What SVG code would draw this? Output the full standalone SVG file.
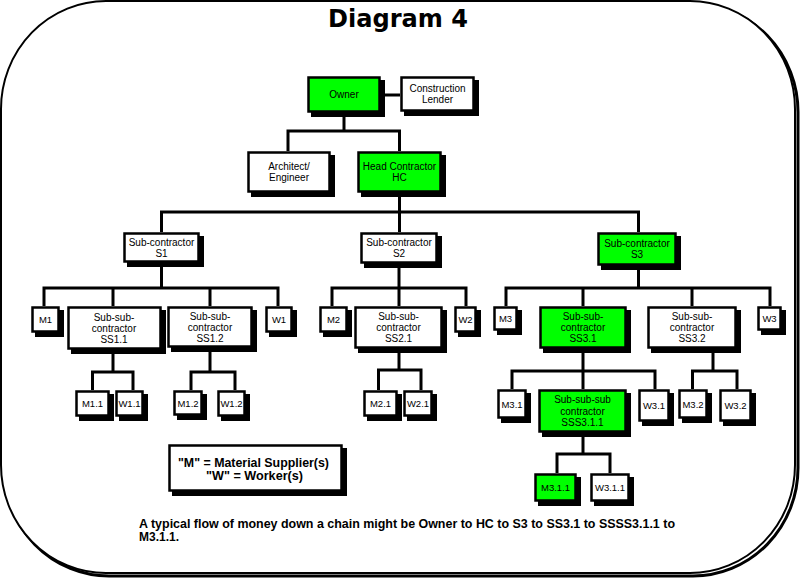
<svg xmlns="http://www.w3.org/2000/svg" width="800" height="578" viewBox="0 0 800 578">
<style>
.sh{fill:#000}
.bx{fill:#fff;stroke:#000;stroke-width:2.5}
.gr{fill:#00ff00}
.t{font-family:"Liberation Sans",Arial,sans-serif;font-size:10px;text-anchor:middle;fill:#000}
.s{font-size:9.5px}
.ln{fill:none;stroke:#000;stroke-width:3;stroke-linejoin:miter}
.b{font-family:"Liberation Sans",Arial,sans-serif;font-weight:bold;fill:#000}
</style>
<g id="frame">
<rect x="4" y="4" width="794" height="572" rx="105" ry="108" fill="none" stroke="#000" stroke-width="3"/>
<rect x="1" y="1" width="794" height="572" rx="105" ry="108" fill="#fff" stroke="#000" stroke-width="2"/>
</g>
<text id="title" x="328" y="27" textLength="140" lengthAdjust="spacingAndGlyphs" style="font-family:'DejaVu Sans',sans-serif;font-weight:bold;font-size:24px">Diagram 4</text>
<g id="connectors" class="ln">
<path d="M381 95H400"/>
<path d="M344 113V131M288 151V131H399.5V151"/>
<path d="M399.5 193V212M161.5 232V212H638.5V232M399.5 212V232"/>
<path d="M161.5 263V288M44 306V288H278V306M113 288V306M210 288V306"/>
<path d="M399 264V288M332 306V288H466V306M399 288V306"/>
<path d="M638.5 266V288M506 306V288H770V306M583 288V306M692 288V306"/>
<path d="M113 350V372M92.5 390V372H133V390"/>
<path d="M210 348V372M191 390V372H235V390"/>
<path d="M399 349V370M378.5 390V370H421V390"/>
<path d="M583 349V371M512 389V371H655V389M583 371V389"/>
<path d="M713 349V371M692.5 389V371H737V389"/>
<path d="M583 433V454M557 473V454H610V473"/>
</g>
<g id="owner"><rect class="sh" x="311" y="80" width="74" height="37"/><rect class="bx gr" x="308.5" y="77.5" width="71" height="34"/><text class="t" x="344" y="98">Owner</text></g>
<g id="lender"><rect class="sh" x="404" y="80" width="75" height="36"/><rect class="bx" x="401.5" y="77.5" width="72" height="33"/><text class="t" x="437.5" y="92">Construction</text><text class="t" x="437.5" y="103">Lender</text></g>
<g id="architect"><rect class="sh" x="251" y="155" width="84" height="42"/><rect class="bx" x="248.5" y="152.5" width="81" height="39"/><text class="t" x="289" y="170">Architect/</text><text class="t" x="289" y="181">Engineer</text></g>
<g id="hc"><rect class="sh" x="361" y="155" width="85" height="42"/><rect class="bx gr" x="358.5" y="152.5" width="82" height="39"/><text class="t" x="399.5" y="170">Head Contractor</text><text class="t" x="399.5" y="181">HC</text></g>
<g id="s1"><rect class="sh" x="127" y="236" width="77" height="31"/><rect class="bx" x="124.5" y="233.5" width="74" height="28"/><text class="t" x="161.5" y="245.5">Sub-contractor</text><text class="t" x="161.5" y="256.5">S1</text></g>
<g id="s2"><rect class="sh" x="364" y="236" width="78" height="32"/><rect class="bx" x="361.5" y="233.5" width="75" height="29"/><text class="t" x="399" y="246">Sub-contractor</text><text class="t" x="399" y="257">S2</text></g>
<g id="s3"><rect class="sh" x="601" y="236" width="80" height="34"/><rect class="bx gr" x="598.5" y="233.5" width="77" height="31"/><text class="t" x="637" y="247">Sub-contractor</text><text class="t" x="637" y="258">S3</text></g>
<g id="m1"><rect class="sh" x="35" y="310" width="29" height="27"/><rect class="bx" x="32.5" y="307.5" width="26" height="24"/><text class="t s" x="45.5" y="323">M1</text></g>
<g id="ss1-1"><rect class="sh" x="71" y="310" width="95" height="44"/><rect class="bx" x="68.5" y="307.5" width="92" height="41"/><text class="t" x="114" y="320.5">Sub-sub-</text><text class="t" x="114" y="331.5">contractor</text><text class="t" x="114" y="342.5">SS1.1</text></g>
<g id="ss1-2"><rect class="sh" x="171" y="310" width="86" height="42"/><rect class="bx" x="168.5" y="307.5" width="83" height="39"/><text class="t" x="210" y="319.5">Sub-sub-</text><text class="t" x="210" y="330.5">contractor</text><text class="t" x="210" y="341.5">SS1.2</text></g>
<g id="w1"><rect class="sh" x="269" y="310" width="28" height="27"/><rect class="bx" x="266.5" y="307.5" width="25" height="24"/><text class="t s" x="279" y="323">W1</text></g>
<g id="m2"><rect class="sh" x="323" y="310" width="29" height="27"/><rect class="bx" x="320.5" y="307.5" width="26" height="24"/><text class="t s" x="333.5" y="323">M2</text></g>
<g id="ss2-1"><rect class="sh" x="358" y="310" width="89" height="43"/><rect class="bx" x="355.5" y="307.5" width="86" height="40"/><text class="t" x="398.5" y="320">Sub-sub-</text><text class="t" x="398.5" y="331">contractor</text><text class="t" x="398.5" y="342">SS2.1</text></g>
<g id="w2"><rect class="sh" x="458" y="310" width="23" height="27"/><rect class="bx" x="455.5" y="307.5" width="20" height="24"/><text class="t s" x="465.5" y="323">W2</text></g>
<g id="m3"><rect class="sh" x="497" y="310" width="25" height="25"/><rect class="bx" x="494.5" y="307.5" width="22" height="22"/><text class="t s" x="505.5" y="322">M3</text></g>
<g id="ss3-1"><rect class="sh" x="543" y="310" width="88" height="43"/><rect class="bx gr" x="540.5" y="307.5" width="85" height="40"/><text class="t" x="583" y="320">Sub-sub-</text><text class="t" x="583" y="331">contractor</text><text class="t" x="583" y="342">SS3.1</text></g>
<g id="ss3-2"><rect class="sh" x="651" y="310" width="90" height="43"/><rect class="bx" x="648.5" y="307.5" width="87" height="40"/><text class="t" x="692" y="320">Sub-sub-</text><text class="t" x="692" y="331">contractor</text><text class="t" x="692" y="342">SS3.2</text></g>
<g id="w3"><rect class="sh" x="761" y="310" width="25" height="25"/><rect class="bx" x="758.5" y="307.5" width="22" height="22"/><text class="t s" x="769.5" y="322">W3</text></g>
<g id="m1-1"><rect class="sh" x="79" y="394" width="35" height="27"/><rect class="bx" x="76.5" y="391.5" width="32" height="24"/><text class="t s" x="92.5" y="407">M1.1</text></g>
<g id="w1-1"><rect class="sh" x="119" y="394" width="29" height="27"/><rect class="bx" x="116.5" y="391.5" width="26" height="24"/><text class="t s" x="129.5" y="407">W1.1</text></g>
<g id="m1-2"><rect class="sh" x="177" y="394" width="30" height="26"/><rect class="bx" x="174.5" y="391.5" width="27" height="23"/><text class="t s" x="188" y="406.5">M1.2</text></g>
<g id="w1-2"><rect class="sh" x="221" y="394" width="29" height="27"/><rect class="bx" x="218.5" y="391.5" width="26" height="24"/><text class="t s" x="231.5" y="407">W1.2</text></g>
<g id="m2-1"><rect class="sh" x="367" y="394" width="35" height="27"/><rect class="bx" x="364.5" y="391.5" width="32" height="24"/><text class="t s" x="380.5" y="407">M2.1</text></g>
<g id="w2-1"><rect class="sh" x="407" y="394" width="30" height="27"/><rect class="bx" x="404.5" y="391.5" width="27" height="24"/><text class="t s" x="418" y="407">W2.1</text></g>
<g id="m3-1"><rect class="sh" x="501" y="393" width="30" height="30"/><rect class="bx" x="498.5" y="390.5" width="27" height="27"/><text class="t s" x="512" y="407.5">M3.1</text></g>
<g id="sss3-1-1"><rect class="sh" x="542" y="393" width="89" height="44"/><rect class="bx gr" x="539.5" y="390.5" width="86" height="41"/><text class="t" x="582.5" y="403">Sub-sub-sub</text><text class="t" x="582.5" y="414.5">contractor</text><text class="t" x="582.5" y="426">SSS3.1.1</text></g>
<g id="w3-1"><rect class="sh" x="642" y="393" width="32" height="33"/><rect class="bx" x="639.5" y="390.5" width="29" height="30"/><text class="t s" x="654" y="409">W3.1</text></g>
<g id="m3-2"><rect class="sh" x="682" y="393" width="30" height="30"/><rect class="bx" x="679.5" y="390.5" width="27" height="27"/><text class="t s" x="693" y="407.5">M3.2</text></g>
<g id="w3-2"><rect class="sh" x="723" y="393" width="33" height="33"/><rect class="bx" x="720.5" y="390.5" width="30" height="30"/><text class="t s" x="735.5" y="409">W3.2</text></g>
<g id="m3-1-1"><rect class="sh" x="538" y="477" width="43" height="29"/><rect class="bx gr" x="535.5" y="474.5" width="40" height="26"/><text class="t s" x="555.5" y="491">M3.1.1</text></g>
<g id="w3-1-1"><rect class="sh" x="594" y="477" width="40" height="29"/><rect class="bx" x="591.5" y="474.5" width="37" height="26"/><text class="t s" x="610" y="491">W3.1.1</text></g>
<g id="legend"><rect class="sh" x="172" y="448" width="175" height="48"/><rect class="bx" x="169.5" y="445.5" width="172" height="45"/><text class="b" x="178" y="466.5" font-size="12.5" textLength="151" lengthAdjust="spacingAndGlyphs">"M" = Material Supplier(s)</text><text class="b" x="206" y="480" font-size="12.5" textLength="97" lengthAdjust="spacingAndGlyphs">"W" = Worker(s)</text></g>
<g id="caption"><text class="b" x="139" y="527.5" font-size="12" textLength="536" lengthAdjust="spacingAndGlyphs">A typical flow of money down a chain might be Owner to HC to S3 to SS3.1 to SSSS3.1.1 to</text><text class="b" x="139" y="540.5" font-size="12" textLength="40" lengthAdjust="spacingAndGlyphs">M3.1.1.</text></g>
</svg>
